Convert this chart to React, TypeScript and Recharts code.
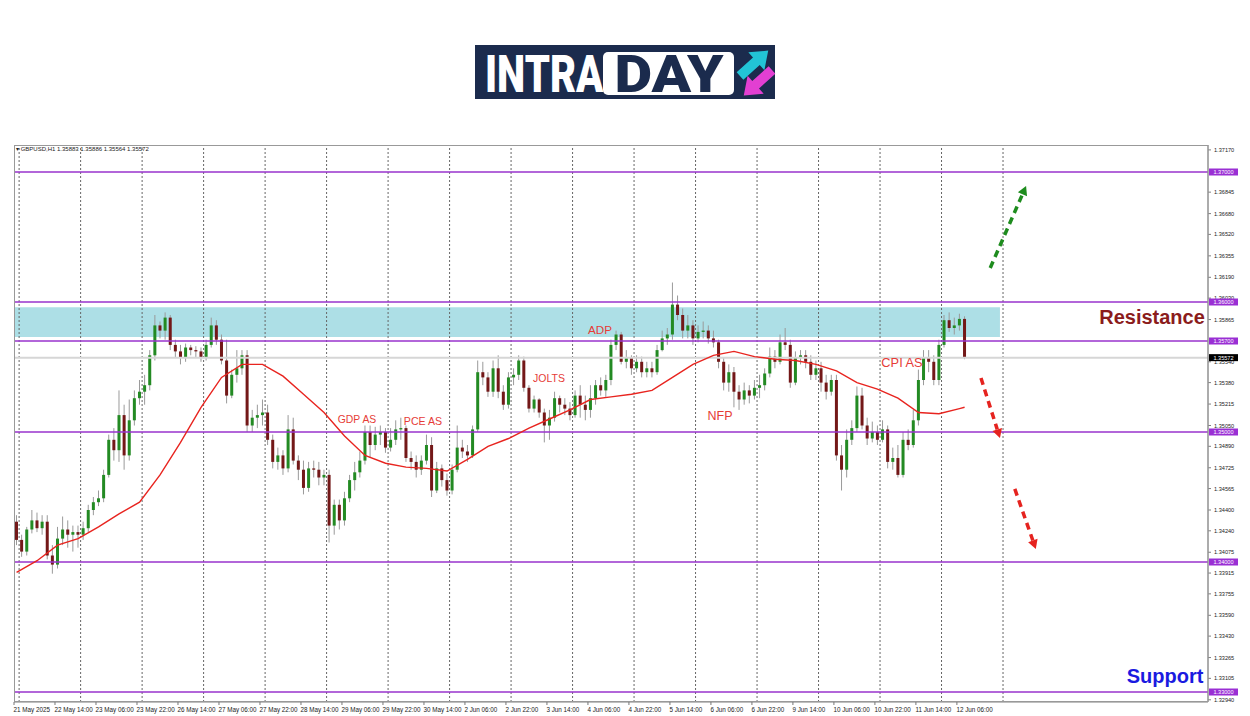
import { ComposedChart, Bar, Line, XAxis, YAxis, ReferenceLine, ReferenceArea } from "recharts";

// GBPUSD, 2-hour candles (21 May 22:00 -> 12 Jun 08:00)
const OPENS = [
  1.3431, 1.3417, 1.3408, 1.3425, 1.3432, 1.3426, 1.3431, 1.3405, 1.3398, 1.3418,
  1.3425, 1.3421, 1.3423, 1.3421, 1.3426, 1.3440, 1.3446, 1.3449, 1.3467, 1.3494,
  1.3486, 1.3513, 1.3482, 1.3509, 1.3526, 1.3531, 1.3536, 1.3559, 1.3582, 1.3578,
  1.3588, 1.3567, 1.3562, 1.3557, 1.3565, 1.3563, 1.3562, 1.3557, 1.3567, 1.3582,
  1.3571, 1.3555, 1.3528, 1.3544, 1.3549, 1.3559, 1.3505, 1.3511, 1.3513, 1.3515,
  1.3494, 1.3477, 1.3482, 1.3472, 1.3502, 1.3478, 1.3471, 1.3457, 1.3472, 1.3471,
  1.3465, 1.3467, 1.3428, 1.3444, 1.3432, 1.3449, 1.3463, 1.3469, 1.3478, 1.3500,
  1.3490, 1.3498, 1.3500, 1.3488, 1.3494, 1.3502, 1.3503, 1.3480, 1.3477, 1.3471,
  1.3478, 1.3490, 1.3455, 1.3472, 1.3463, 1.3455, 1.3471, 1.3488, 1.3485, 1.3482,
  1.3502, 1.3546, 1.3542, 1.3531, 1.3549, 1.3531, 1.3521, 1.3542, 1.3544, 1.3555,
  1.3534, 1.3518, 1.3525, 1.3515, 1.3505, 1.3511, 1.3526, 1.3521, 1.3518, 1.3513,
  1.3528, 1.3521, 1.3517, 1.3526, 1.3536, 1.3532, 1.3540, 1.3567, 1.3575, 1.3554,
  1.3557, 1.3549, 1.3554, 1.3546, 1.3549, 1.3546, 1.3563, 1.3572, 1.3575, 1.3598,
  1.3590, 1.3578, 1.3582, 1.3572, 1.3577, 1.3578, 1.3572, 1.3569, 1.3554, 1.3538,
  1.3546, 1.3531, 1.3525, 1.3532, 1.3528, 1.3534, 1.3536, 1.3545, 1.3558, 1.3554,
  1.3569, 1.3567, 1.3538, 1.3557, 1.3559, 1.3554, 1.3544, 1.3549, 1.3538, 1.3531,
  1.3540, 1.3482, 1.3471, 1.3494, 1.3503, 1.3528, 1.3505, 1.3495, 1.3500, 1.3494,
  1.3502, 1.3477, 1.3480, 1.3467, 1.3494, 1.3490, 1.3509, 1.3540, 1.3557, 1.3554,
  1.3540, 1.3567, 1.3586, 1.3580, 1.3582, 1.3587,
];
const HIGHS = [
  1.3436, 1.3421, 1.3427, 1.3440, 1.3438, 1.3436, 1.3436, 1.3413, 1.3427, 1.3435,
  1.3432, 1.3428, 1.3428, 1.3431, 1.3444, 1.3450, 1.3455, 1.3471, 1.3498, 1.3503,
  1.3532, 1.3521, 1.3525, 1.3532, 1.3540, 1.3544, 1.3563, 1.3590, 1.3585, 1.3592,
  1.3590, 1.3571, 1.3567, 1.3568, 1.3567, 1.3566, 1.3565, 1.3571, 1.3588, 1.3586,
  1.3575, 1.3571, 1.3548, 1.3563, 1.3563, 1.3563, 1.3517, 1.3521, 1.3525, 1.3521,
  1.3498, 1.3488, 1.3486, 1.3513, 1.3511, 1.3482, 1.3478, 1.3477, 1.3478, 1.3477,
  1.3471, 1.3471, 1.3448, 1.3448, 1.3454, 1.3467, 1.3477, 1.3485, 1.3505, 1.3505,
  1.3504, 1.3505, 1.3503, 1.3503, 1.3509, 1.3511, 1.3505, 1.3485, 1.3482, 1.3482,
  1.3498, 1.3496, 1.3477, 1.3475, 1.3468, 1.3475, 1.3505, 1.3494, 1.3490, 1.3505,
  1.3555, 1.3554, 1.3546, 1.3555, 1.3559, 1.3536, 1.3546, 1.3549, 1.3559, 1.3558,
  1.3536, 1.3528, 1.3526, 1.3518, 1.3517, 1.3531, 1.3528, 1.3526, 1.3523, 1.3532,
  1.3536, 1.3528, 1.3536, 1.3540, 1.3542, 1.3544, 1.3571, 1.3578, 1.3577, 1.3563,
  1.3559, 1.3559, 1.3558, 1.3554, 1.3554, 1.3567, 1.3578, 1.3580, 1.3615, 1.3605,
  1.3595, 1.3590, 1.3586, 1.3582, 1.3585, 1.3582, 1.3578, 1.3571, 1.3557, 1.3552,
  1.3550, 1.3536, 1.3538, 1.3536, 1.3540, 1.3544, 1.3549, 1.3565, 1.3563, 1.3575,
  1.3580, 1.3571, 1.3562, 1.3563, 1.3563, 1.3559, 1.3555, 1.3554, 1.3544, 1.3544,
  1.3544, 1.3490, 1.3502, 1.3509, 1.3535, 1.3534, 1.3511, 1.3508, 1.3505, 1.3509,
  1.3505, 1.3488, 1.3490, 1.3500, 1.3502, 1.3517, 1.3548, 1.3563, 1.3563, 1.3559,
  1.3571, 1.3590, 1.3592, 1.3588, 1.3591, 1.3589,
];
const LOWS = [
  1.3413, 1.3404, 1.3405, 1.3422, 1.3423, 1.3421, 1.3402, 1.3391, 1.3395, 1.3413,
  1.3411, 1.3408, 1.3411, 1.3417, 1.3423, 1.3436, 1.3443, 1.3446, 1.3465, 1.3478,
  1.3477, 1.3471, 1.3478, 1.3505, 1.3521, 1.3521, 1.3532, 1.3555, 1.3572, 1.3571,
  1.3563, 1.3557, 1.3552, 1.3554, 1.3559, 1.3557, 1.3554, 1.3555, 1.3565, 1.3567,
  1.3552, 1.3522, 1.3526, 1.3538, 1.3544, 1.3500, 1.3500, 1.3503, 1.3505, 1.3490,
  1.3472, 1.3471, 1.3467, 1.3469, 1.3475, 1.3463, 1.3452, 1.3454, 1.3465, 1.3459,
  1.3459, 1.3415, 1.3421, 1.3425, 1.3428, 1.3446, 1.3455, 1.3465, 1.3475, 1.3480,
  1.3486, 1.3490, 1.3484, 1.3485, 1.3490, 1.3494, 1.3477, 1.3471, 1.3465, 1.3467,
  1.3475, 1.3450, 1.3453, 1.3458, 1.3451, 1.3452, 1.3469, 1.3480, 1.3477, 1.3480,
  1.3500, 1.3536, 1.3527, 1.3527, 1.3526, 1.3517, 1.3518, 1.3536, 1.3540, 1.3531,
  1.3515, 1.3515, 1.3511, 1.3492, 1.3494, 1.3508, 1.3515, 1.3513, 1.3509, 1.3511,
  1.3511, 1.3509, 1.3511, 1.3521, 1.3528, 1.3527, 1.3536, 1.3563, 1.3552, 1.3549,
  1.3544, 1.3546, 1.3542, 1.3542, 1.3542, 1.3544, 1.3562, 1.3567, 1.3571, 1.3586,
  1.3572, 1.3572, 1.3567, 1.3569, 1.3572, 1.3568, 1.3565, 1.3549, 1.3532, 1.3531,
  1.3519, 1.3517, 1.3521, 1.3522, 1.3525, 1.3526, 1.3532, 1.3542, 1.3549, 1.3552,
  1.3563, 1.3534, 1.3536, 1.3552, 1.3549, 1.3540, 1.3540, 1.3531, 1.3525, 1.3528,
  1.3478, 1.3455, 1.3465, 1.3490, 1.3500, 1.3502, 1.3490, 1.3492, 1.3490, 1.3492,
  1.3472, 1.3471, 1.3465, 1.3465, 1.3486, 1.3488, 1.3505, 1.3536, 1.3546, 1.3536,
  1.3536, 1.3565, 1.3577, 1.3575, 1.3578, 1.3556,
];
const CLOSES = [
  1.3417, 1.3408, 1.3425, 1.3432, 1.3426, 1.3431, 1.3405, 1.3398, 1.3418, 1.3425,
  1.3421, 1.3423, 1.3421, 1.3426, 1.3440, 1.3446, 1.3449, 1.3467, 1.3494, 1.3486,
  1.3513, 1.3482, 1.3509, 1.3526, 1.3531, 1.3536, 1.3559, 1.3582, 1.3578, 1.3588,
  1.3567, 1.3562, 1.3557, 1.3565, 1.3563, 1.3562, 1.3557, 1.3567, 1.3582, 1.3571,
  1.3555, 1.3528, 1.3544, 1.3549, 1.3559, 1.3505, 1.3511, 1.3513, 1.3515, 1.3494,
  1.3477, 1.3482, 1.3472, 1.3502, 1.3478, 1.3471, 1.3457, 1.3472, 1.3471, 1.3465,
  1.3467, 1.3428, 1.3444, 1.3432, 1.3449, 1.3463, 1.3469, 1.3478, 1.3500, 1.3490,
  1.3498, 1.3500, 1.3488, 1.3494, 1.3502, 1.3503, 1.3480, 1.3477, 1.3471, 1.3478,
  1.3490, 1.3455, 1.3472, 1.3463, 1.3455, 1.3471, 1.3488, 1.3485, 1.3482, 1.3502,
  1.3546, 1.3542, 1.3531, 1.3549, 1.3531, 1.3521, 1.3542, 1.3544, 1.3555, 1.3534,
  1.3518, 1.3525, 1.3515, 1.3505, 1.3511, 1.3526, 1.3521, 1.3518, 1.3513, 1.3528,
  1.3521, 1.3517, 1.3526, 1.3536, 1.3532, 1.3540, 1.3567, 1.3575, 1.3554, 1.3557,
  1.3549, 1.3554, 1.3546, 1.3549, 1.3546, 1.3563, 1.3572, 1.3575, 1.3598, 1.3590,
  1.3578, 1.3582, 1.3572, 1.3577, 1.3578, 1.3572, 1.3569, 1.3554, 1.3538, 1.3546,
  1.3531, 1.3525, 1.3532, 1.3528, 1.3534, 1.3536, 1.3545, 1.3558, 1.3554, 1.3569,
  1.3567, 1.3538, 1.3557, 1.3559, 1.3554, 1.3544, 1.3549, 1.3538, 1.3531, 1.3540,
  1.3482, 1.3471, 1.3494, 1.3503, 1.3528, 1.3505, 1.3495, 1.3500, 1.3494, 1.3502,
  1.3477, 1.3480, 1.3467, 1.3494, 1.3490, 1.3509, 1.3540, 1.3557, 1.3554, 1.3540,
  1.3567, 1.3586, 1.3580, 1.3582, 1.3587, 1.3557,
];

// red moving average, read every 4th candle
const MA_EVERY_4 = [
  1.3392, 1.3401, 1.3413, 1.3418, 1.3427, 1.3437, 1.3446, 1.3467, 1.3492, 1.3519,
  1.3542, 1.3552, 1.3552, 1.3543, 1.3529, 1.3515, 1.3497, 1.3482, 1.3476, 1.3473,
  1.3472, 1.3470, 1.3479, 1.3489, 1.3495, 1.3503, 1.3510, 1.3517, 1.3525, 1.3527,
  1.3529, 1.3532, 1.3542, 1.3552, 1.3559, 1.3562, 1.3558, 1.3556, 1.3555, 1.3552,
  1.3547, 1.3538, 1.3533, 1.3526, 1.3515, 1.3514, 1.3518,
];
const MA_LAST = 1.3519;

const X_LABELS = [
  "21 May 2025", "22 May 14:00", "23 May 06:00", "23 May 22:00", "26 May 14:00",
  "27 May 06:00", "27 May 22:00", "28 May 14:00", "29 May 06:00", "29 May 22:00",
  "30 May 14:00", "2 Jun 06:00", "2 Jun 22:00", "3 Jun 14:00", "4 Jun 06:00",
  "4 Jun 22:00", "5 Jun 14:00", "6 Jun 06:00", "6 Jun 22:00", "9 Jun 14:00",
  "10 Jun 06:00", "10 Jun 22:00", "11 Jun 14:00", "12 Jun 06:00",
];
const X_TICKS = X_LABELS.map((_, k) => k * 8);
// candle index where each trading day starts (00:00)
const DAY_STARTS = [1, 13, 25, 37, 49, 61, 73, 85, 97, 109, 121, 133, 145, 157, 169, 181, 193];

const Y_TICKS = [
  1.3717, 1.36845, 1.3668, 1.3652, 1.36355, 1.3619, 1.3603, 1.35865,
  1.3554, 1.3538, 1.35215, 1.3505, 1.3489, 1.34725, 1.34565, 1.344, 1.3424, 1.34075,
  1.33915, 1.33755, 1.3359, 1.3343, 1.33265, 1.33105, 1.3294,
];
const Y_MIN = 1.329231;
const Y_MAX = 1.372077;
const SLOTS = 233;

const LEVELS = [1.37, 1.36, 1.357, 1.35, 1.34, 1.33];
const LAST_PRICE = 1.35572;
const ZONE_LOW = 1.3573;
const ZONE_HIGH = 1.3596;
const ZONE_END = 192.4;

const ARROWS = [
  { x1: 190.5, y1: 1.36262, x2: 197.5, y2: 1.36892, color: "#1e8c1e" },
  { x1: 188.7, y1: 1.35415, x2: 192.4, y2: 1.34954, color: "#e5231f" },
  { x1: 195.3, y1: 1.34562, x2: 199.4, y2: 1.341, color: "#e5231f" },
];

const FONT = "'Liberation Sans', Arial, sans-serif";

const rows = CLOSES.map((c, i) => ({
  x: i + 0.5,
  o: OPENS[i],
  h: HIGHS[i],
  l: LOWS[i],
  c,
  ma: i % 4 === 0 ? MA_EVERY_4[i / 4] : i === CLOSES.length - 1 ? MA_LAST : undefined,
}));

// plain ticks first, then the level tags and the last price so the tags sit on top
const AXIS_TICKS = [...Y_TICKS, ...LEVELS, LAST_PRICE];

const Candle = (props: any) => {
  const { x, y, width, height, payload } = props;
  if (!payload || x == null) return null;
  const { o, h, l, c } = payload;
  const top = Math.min(y, y + height);
  const span = Math.abs(height);
  const k = h === l ? 0 : span / (h - l);
  const cx = x + width / 2;
  const yo = top + (h - o) * k;
  const yc = top + (h - c) * k;
  const up = c >= o;
  return (
    <g>
      <line x1={cx} x2={cx} y1={top} y2={top + span} stroke="#9a9a9a" strokeWidth={1} />
      <rect
        x={cx - 1.5}
        y={Math.min(yo, yc)}
        width={3}
        height={Math.max(1, Math.abs(yc - yo))}
        fill={up ? "#238a23" : "#731818"}
      />
    </g>
  );
};

const XTick = ({ x, y, payload }: any) => {
  const label = X_LABELS[Math.round(payload.value / 8)];
  return (
    <g>
      <line x1={x} x2={x} y1={y} y2={y + 3} stroke="#777" />
      <text x={x - 0.5} y={y + 10} fontSize={6.3} fill="#222" fontFamily={FONT}>
        {label}
      </text>
    </g>
  );
};

const YTick = ({ x, y, payload }: any) => {
  const v = Number(payload.value);
  const isLevel = LEVELS.includes(v);
  const isLast = v === LAST_PRICE;
  if (isLevel || isLast) {
    return (
      <g>
        <rect x={x + 1} y={y - 3.5} width={29} height={7} fill={isLast ? "#000" : "#9a2fd4"} />
        <text x={x + 15.5} y={y + 2} textAnchor="middle" fontSize={5.6} fill="#fff" fontFamily={FONT}>
          {v.toFixed(5)}
        </text>
      </g>
    );
  }
  return (
    <g>
      <line x1={x} x2={x + 3} y1={y} y2={y} stroke="#808080" />
      <text x={x + 6} y={y + 2} fontSize={5.6} fill="#222" fontFamily={FONT}>
        {v.toFixed(5)}
      </text>
    </g>
  );
};

const arrowShape = (color: string) => (p: any) => {
  const { x1, y1, x2, y2 } = p;
  const a = Math.atan2(y2 - y1, x2 - x1);
  const head = 9;
  const half = 5;
  const bx = x2 - head * Math.cos(a);
  const by = y2 - head * Math.sin(a);
  const nx = -Math.sin(a) * half;
  const ny = Math.cos(a) * half;
  return (
    <g>
      <line x1={x1} y1={y1} x2={bx} y2={by} stroke={color} strokeWidth={3.5} strokeDasharray="7 5" />
      <polygon points={`${x2},${y2} ${bx + nx},${by + ny} ${bx - nx},${by - ny}`} fill={color} />
    </g>
  );
};

const EVENTS = [
  { text: "ADP", x: 600, y: 334, size: 11.7 },
  { text: "JOLTS", x: 549, y: 382, size: 10.5 },
  { text: "GDP AS", x: 357, y: 423, size: 10.4 },
  { text: "PCE AS", x: 423, y: 425, size: 10.6 },
  { text: "NFP", x: 720, y: 420, size: 12.5 },
  { text: "CPI AS", x: 902, y: 367, size: 12.8 },
];

function Logo() {
  return (
    <g>
      <rect x={475} y={45} width={300} height={54} fill="#1b2b4d" />
      <text
        transform="translate(485,92) scale(0.77,1)"
        fontFamily="Roboto, Arial, sans-serif"
        fontWeight={900}
        fontSize={52}
        fill="#fff"
      >
        INTRA
      </text>
      <rect x={603} y={52} width={131} height={43} rx={5} fill="#fff" />
      <text
        transform="translate(669,92) scale(1.12,1)"
        textAnchor="middle"
        fontFamily="Roboto, Arial, sans-serif"
        fontWeight={900}
        fontSize={52}
        fill="#1b2b4d"
      >
        DAY
      </text>
      <polygon
        points="0,-5 22,-5 22,-12 38,0 22,12 22,5 0,5"
        fill="#22c4d6"
        transform="translate(740,76) rotate(-42)"
      />
      <polygon
        points="0,-5 22,-5 22,-12 38,0 22,12 22,5 0,5"
        fill="#e23fd2"
        transform="translate(772,70) rotate(138)"
      />
    </g>
  );
}

export default function App() {
  return (
    <div style={{ position: "absolute", left: 0, top: 0, width: 1250, height: 716, background: "#fff" }}>
      <ComposedChart
        width={1250}
        height={716}
        data={rows}
        margin={{ top: 145, right: 0, bottom: 0, left: 14 }}
      >
        <ReferenceArea
          x1={0}
          x2={ZONE_END}
          y1={ZONE_LOW}
          y2={ZONE_HIGH}
          fill="#addfe6"
          fillOpacity={1}
          stroke="none"
          ifOverflow="visible"
        />
        {DAY_STARTS.map((d) => (
          <ReferenceLine key={`d${d}`} x={d} stroke="#666" strokeDasharray="2 2" ifOverflow="visible" />
        ))}
        <ReferenceLine y={LAST_PRICE} stroke="#d6d6d6" strokeWidth={2} />
        {LEVELS.map((v) => (
          <ReferenceLine key={`l${v}`} y={v} stroke="#9933cc" strokeWidth={1.6} ifOverflow="visible" />
        ))}
        <Bar
          dataKey={(d: any) => [d.l, d.h]}
          barSize={3}
          shape={Candle}
          isAnimationActive={false}
        />
        <Line
          type="linear"
          dataKey="ma"
          stroke="#e8241f"
          strokeWidth={1.4}
          dot={false}
          connectNulls
          isAnimationActive={false}
        />
        {ARROWS.map((a, k) => (
          <ReferenceLine
            key={`a${k}`}
            segment={[
              { x: a.x1, y: a.y1 },
              { x: a.x2, y: a.y2 },
            ]}
            ifOverflow="visible"
            shape={arrowShape(a.color)}
          />
        ))}
        <XAxis
          type="number"
          dataKey="x"
          domain={[0, SLOTS]}
          ticks={X_TICKS}
          interval={0}
          tick={<XTick />}
          tickLine={false}
          tickSize={0}
          tickMargin={0}
          axisLine={{ stroke: "#808080" }}
          height={14}
          allowDataOverflow
        />
        <YAxis
          type="number"
          orientation="right"
          domain={[Y_MIN, Y_MAX]}
          ticks={AXIS_TICKS}
          interval={0}
          tick={<YTick />}
          tickLine={false}
          tickSize={0}
          tickMargin={0}
          width={42}
          axisLine={{ stroke: "#808080" }}
          allowDataOverflow
        />
      </ComposedChart>

      <svg
        width={1250}
        height={716}
        style={{ position: "absolute", left: 0, top: 0, pointerEvents: "none" }}
      >
        <Logo />
        <rect x={14.5} y={145.5} width={1193.5} height={556} fill="none" stroke="#999" />
        <text x={16} y={151} fontSize={6} fill="#222" fontFamily={FONT}>
          {"▾ GBPUSD,H1  1.35883 1.35886 1.35564 1.35572"}
        </text>
        {EVENTS.map((e) => (
          <text
            key={e.text}
            x={e.x}
            y={e.y}
            textAnchor="middle"
            fontSize={e.size}
            fill="#e63c37"
            fontFamily={FONT}
          >
            {e.text}
          </text>
        ))}
        <text x={1152} y={324} textAnchor="middle" fontSize={20} fontWeight="bold" fill="#8b1c1c" fontFamily={FONT}>
          Resistance
        </text>
        <text x={1165} y={683} textAnchor="middle" fontSize={20} fontWeight="bold" fill="#1a1ae0" fontFamily={FONT}>
          Support
        </text>
      </svg>
    </div>
  );
}
